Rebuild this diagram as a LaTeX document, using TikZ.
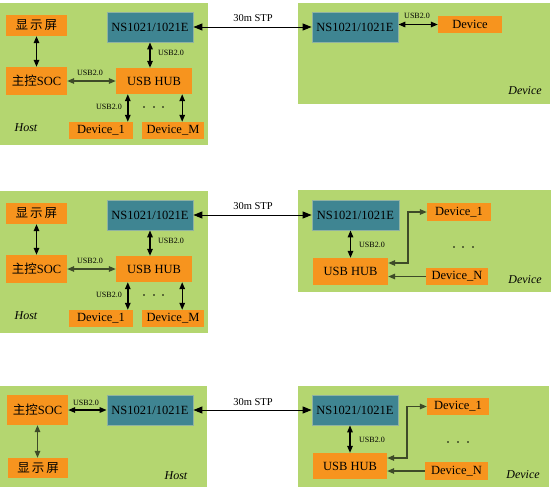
\documentclass[tikz,border=0pt]{standalone}
\usepackage{fontspec}
\setmainfont{Liberation Serif}
\newfontfamily\cjk{Noto Sans CJK SC}
\usetikzlibrary{arrows.meta}
\definecolor{bggreen}{HTML}{B4D670}
\definecolor{boxorange}{HTML}{F7941E}
\definecolor{boxteal}{HTML}{3F8592}
\definecolor{tealedge}{HTML}{8FB2A2}
\definecolor{olive}{HTML}{3E4B28}
\tikzset{
  bgbox/.style={fill=bggreen, draw=none, inner sep=0pt},
  obox/.style={fill=boxorange, draw=none, inner sep=0pt, font=\rmfamily\fontsize{12.5}{14}\selectfont},
  tbox/.style={fill=boxteal, draw=tealedge, line width=0.8pt, inner sep=0pt, font=\rmfamily\fontsize{12.5}{14}\selectfont},
  small/.style={font=\rmfamily\fontsize{8}{9}\selectfont, inner sep=0pt},
  tag/.style={font=\rmfamily\fontsize{12}{14}\selectfont\itshape, inner sep=0pt},
  stp/.style={font=\rmfamily\fontsize{10.5}{12}\selectfont, inner sep=0pt},
  arr/.style={{Triangle[length=7pt,width=5.5pt]}-{Triangle[length=7pt,width=5.5pt]}, line width=1.4pt},
  arrone/.style={-{Triangle[length=7pt,width=5.5pt]}, line width=1.4pt},
  bigarr/.style={{Triangle[length=9pt,width=7pt]}-{Triangle[length=9pt,width=7pt]}, line width=1pt},
  dotc/.style={circle, fill=black, inner sep=0pt, minimum size=1.8pt}
}
\begin{document}
\begin{tikzpicture}[x=1pt,y=-1pt]
\useasboundingbox (0,0) rectangle (554,493);

% ================= Panel 1 =================
\node[bgbox, minimum width=208pt, minimum height=142pt] (hostA) at (104,74) {};
\node[bgbox, minimum width=252pt, minimum height=101pt] (devA) at (424,53.5) {};

\node[obox, minimum width=61pt, minimum height=21pt] (dispA) at (36.5,25.5) {\cjk 显\hspace{2pt}示\hspace{2pt}屏};
\node[obox, minimum width=61pt, minimum height=28pt] (socA) at (36.5,81) {{\cjk 主控}SOC};
\node[tbox, minimum width=86pt, minimum height=30pt] (nsA) at (150,27) {NS1021/1021E};
\node[obox, minimum width=76pt, minimum height=26pt] (hubA) at (154,81) {USB HUB};
\node[obox, minimum width=64pt, minimum height=17pt] (d1A) at (101,130.5) {Device\_1};
\node[obox, minimum width=62pt, minimum height=17pt] (dMA) at (173,130.5) {Device\_M};
\node[tag] (hostlA) at (26,128) {Host};

\draw[arr] (dispA.south) -- (socA.north);
\draw[arr, olive] (socA.east) -- (hubA.west);
\node[small] (uA1) at (90,73) {USB2.0};
\draw[arr] (nsA.south) -- (nsA.south |- hubA.north);
\node[small] (uA2) at (171,53) {USB2.0};
\draw[arr] ([xshift=12pt]hubA.south west) -- ([xshift=12pt]hubA.south west |- d1A.north);
\node[small] (uA3) at (109,107) {USB2.0};
\draw[arr] ([xshift=-10pt]hubA.south east) -- ([xshift=-10pt]hubA.south east |- dMA.north);
\node[dotc] (pA1) at (144,107) {};
\node[dotc] (pA2) at (154,107) {};
\node[dotc] (pA3) at (163,107) {};

\node[tbox, minimum width=86pt, minimum height=30pt] (nsdA) at (355,27) {NS1021/1021E};
\node[obox, minimum width=64pt, minimum height=17pt] (devcA) at (470,24.5) {Device};
\draw[arr] (nsdA.east |- devcA.west) -- (devcA.west);
\node[small] (uA4) at (417,16) {USB2.0};
\node[tag] (devlA) at (525,91) {Device};

\draw[bigarr] (nsA.east) -- (nsdA.west);
\node[stp] (stpA) at (253,18) {30m STP};

% ================= Panel 2 =================
\node[bgbox, minimum width=208pt, minimum height=142pt] (hostB) at (104,262) {};
\node[bgbox, minimum width=253pt, minimum height=102pt] (devB) at (424.5,241) {};

\node[obox, minimum width=61pt, minimum height=21pt] (dispB) at (36.5,213.5) {\cjk 显\hspace{2pt}示\hspace{2pt}屏};
\node[obox, minimum width=61pt, minimum height=28pt] (socB) at (36.5,269) {{\cjk 主控}SOC};
\node[tbox, minimum width=86pt, minimum height=30pt] (nsB) at (150,215) {NS1021/1021E};
\node[obox, minimum width=76pt, minimum height=26pt] (hubB) at (154,269) {USB HUB};
\node[obox, minimum width=64pt, minimum height=17pt] (d1B) at (101,318.5) {Device\_1};
\node[obox, minimum width=62pt, minimum height=17pt] (dMB) at (173,318.5) {Device\_M};
\node[tag] (hostlB) at (26,316) {Host};

\draw[arr] (dispB.south) -- (socB.north);
\draw[arr, olive] (socB.east) -- (hubB.west);
\node[small] (uB1) at (90,261) {USB2.0};
\draw[arr] (nsB.south) -- (nsB.south |- hubB.north);
\node[small] (uB2) at (171,241) {USB2.0};
\draw[arr] ([xshift=12pt]hubB.south west) -- ([xshift=12pt]hubB.south west |- d1B.north);
\node[small] (uB3) at (109,295) {USB2.0};
\draw[arr] ([xshift=-10pt]hubB.south east) -- ([xshift=-10pt]hubB.south east |- dMB.north);
\node[dotc] (pB1) at (144,295) {};
\node[dotc] (pB2) at (154,295) {};
\node[dotc] (pB3) at (163,295) {};

\node[tbox, minimum width=87pt, minimum height=30pt] (nsdB) at (355.5,215) {NS1021/1021E};
\node[obox, minimum width=75pt, minimum height=27pt] (hubdB) at (350.5,271.5) {USB HUB};
\node[obox, minimum width=64pt, minimum height=18pt] (dd1B) at (459,212) {Device\_1};
\node[obox, minimum width=62pt, minimum height=17pt] (ddNB) at (457,276.5) {Device\_N};
\node[tag] (devlB) at (525,280) {Device};
\draw[arr] ([xshift=-5pt]nsdB.south) -- ([xshift=-5pt]nsdB.south |- hubdB.north);
\node[small] (uB4) at (372,245) {USB2.0};
\coordinate (eB1) at (408,263);
\coordinate (eB2) at (408,212);
\draw[arr, olive] (hubdB.east |- eB1) -- (eB1) -- (eB2) -- (dd1B.west);
\draw[arrone, olive] (ddNB.west) -- (ddNB.west -| hubdB.east);
\node[dotc] (pB4) at (454,247) {};
\node[dotc] (pB5) at (463,247) {};
\node[dotc] (pB6) at (473,247) {};

\draw[bigarr] (nsB.east) -- (nsdB.west);
\node[stp] (stpB) at (253,206) {30m STP};

% ================= Panel 3 =================
\node[bgbox, minimum width=207pt, minimum height=101pt] (hostC) at (103.5,436.5) {};
\node[bgbox, minimum width=251pt, minimum height=101pt] (devC) at (423.5,436.5) {};

\node[obox, minimum width=61pt, minimum height=30pt] (socC) at (37.5,410) {{\cjk 主控}SOC};
\node[tbox, minimum width=86pt, minimum height=30pt] (nsC) at (150,410) {NS1021/1021E};
\node[obox, minimum width=60pt, minimum height=20pt] (dispC) at (38,468) {\cjk 显\hspace{2pt}示\hspace{2pt}屏};
\node[tag] (hostlC) at (176,476) {Host};
\draw[arr] (socC.east) -- (nsC.west);
\node[small] (uC1) at (86,403) {USB2.0};
\draw[arr, olive] (socC.south) -- (socC.south |- dispC.north);

\node[tbox, minimum width=86pt, minimum height=30pt] (nsdC) at (355,410) {NS1021/1021E};
\node[obox, minimum width=74pt, minimum height=26pt] (hubdC) at (350,466) {USB HUB};
\node[obox, minimum width=62pt, minimum height=17pt] (de1C) at (458,406.5) {Device\_1};
\node[obox, minimum width=63pt, minimum height=18pt] (deNC) at (456.5,471) {Device\_N};
\node[tag] (devlC) at (523,475) {Device};
\draw[arr] ([xshift=-5pt]nsdC.south) -- ([xshift=-5pt]nsdC.south |- hubdC.north);
\node[small] (uC4) at (372,440) {USB2.0};
\coordinate (eC1) at (407,458);
\coordinate (eC2) at (407,406.5);
\draw[arr, olive] (hubdC.east |- eC1) -- (eC1) -- (eC2) -- (de1C.west);
\draw[arrone, olive] (deNC.west) -- (deNC.west -| hubdC.east);
\node[dotc] (pC4) at (448,442) {};
\node[dotc] (pC5) at (458,442) {};
\node[dotc] (pC6) at (468,442) {};

\draw[bigarr] (nsC.east) -- (nsdC.west);
\node[stp] (stpC) at (253,402) {30m STP};
\end{tikzpicture}
\end{document}
